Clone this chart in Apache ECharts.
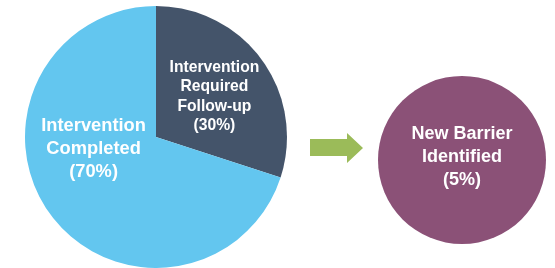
<!DOCTYPE html>
<html>
<head>
<meta charset="utf-8">
<script src="https://cdn.jsdelivr.net/npm/echarts@6/dist/echarts.min.js"></script>
<style>
html, body { margin: 0; padding: 0; background: #fff; }
#chart { width: 555px; height: 268px; }
</style>
</head>
<body>
<div id="chart"></div>
<script>
// intervention outcomes
var outcomeNames = ['Intervention Required Follow-up', 'Intervention Completed'];
var outcomeLabels = ['Intervention\nRequired\nFollow-up', 'Intervention\nCompleted'];
var outcomeValues = [30, 70];
var outcomeColors = ['#44546A', '#63C6EF'];
// follow-up result
var barrierName = 'New Barrier Identified';
var barrierLabel = 'New Barrier\nIdentified';
var barrierValue = 5;

var chart = echarts.init(document.getElementById('chart'));

var labelShift = [[3, 0], [-7, -28]];

var option = {
    animation: false,
    series: [{
        type: 'pie',
        center: [156, 137],
        radius: 131,
        startAngle: 90,
        clockwise: true,
        silent: true,
        label: {
            show: true,
            position: 'inside',
            color: '#fff',
            fontFamily: 'Liberation Sans, Arial, sans-serif',
            fontWeight: 'bold',
            formatter: function (p) {
                return outcomeLabels[p.dataIndex] + '\n(' + p.value + '%)';
            }
        },
        labelLine: { show: false },
        labelLayout: function (p) {
            return { dx: labelShift[p.dataIndex][0], dy: labelShift[p.dataIndex][1] };
        },
        data: outcomeValues.map(function (v, i) {
            return {
                name: outcomeNames[i],
                value: v,
                itemStyle: { color: outcomeColors[i] },
                label: i == 0 ? { fontSize: 15.7, lineHeight: 19.5 } : { fontSize: 18.3, lineHeight: 23 }
            };
        })
    }, {
        type: 'pie',
        center: [462, 160],
        radius: 84,
        silent: true,
        label: {
            show: true,
            position: 'center',
            color: '#fff',
            fontFamily: 'Liberation Sans, Arial, sans-serif',
            fontWeight: 'bold',
            fontSize: 18,
            lineHeight: 23,
            formatter: function (p) {
                return barrierLabel + '\n(' + p.value + '%)';
            }
        },
        labelLine: { show: false },
        labelLayout: { dy: -3 },
        data: [{ name: barrierName, value: barrierValue, itemStyle: { color: '#8B5177' } }]
    }],
    graphic: [{
        type: 'polygon',
        shape: {
            points: [[310, 139], [347, 139], [347, 133], [363, 148], [347, 163], [347, 156], [310, 156]]
        },
        style: { fill: '#9BBB59' }
    }]
};

chart.setOption(option);
</script>
</body>
</html>
